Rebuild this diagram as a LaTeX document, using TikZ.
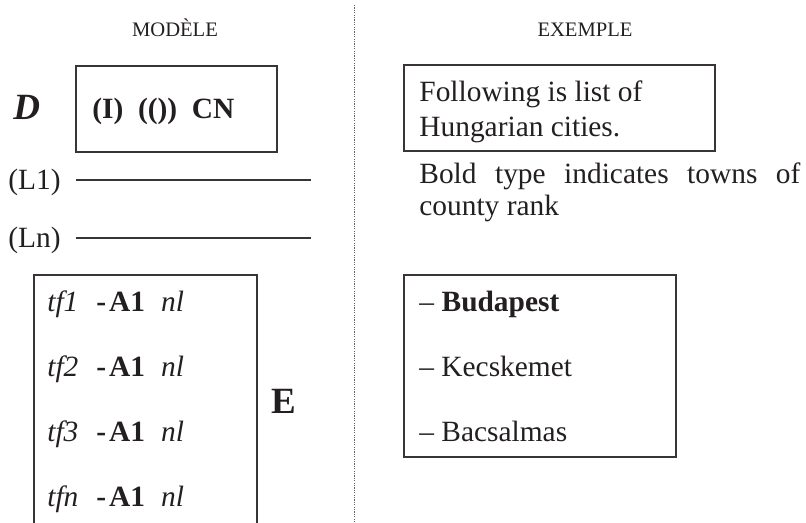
\documentclass[tikz,border=0pt]{standalone}
\usepackage{fontspec}
\setmainfont{Liberation Serif}
\definecolor{ink}{RGB}{35,31,32}
\begin{document}
\begin{tikzpicture}[x=0.5pt,y=-0.5pt,
    txt/.style={anchor=base west,inner sep=0pt,text=ink,font=\fontsize{14.7}{17.5}\selectfont},
    head/.style={anchor=base,inner sep=0pt,text=ink,font=\fontsize{10.3}{12}\selectfont},
    frame/.style={draw=ink!90,line width=0.6pt},
    sep/.style={draw=ink!70,line width=0.5pt,dash pattern=on 0.6pt off 0.6pt}]

    \useasboundingbox (0,0) rectangle (806,523);

    % Headings
    \node[head] (modele) at (175,37) {MODÈLE};
    \node[head] (exemple) at (585,37) {EXEMPLE};

    % Separator
    \draw[sep] (354,5) -- (354,523);

    % Model: D box
    \node[txt,font=\fontsize{18.5}{20}\selectfont\bfseries\itshape] (dlabel) at (13,120) {D};
    \draw[frame] (76,66) rectangle (277,152);
    \node[txt,font=\fontsize{14.7}{17.5}\selectfont\bfseries] (dtext) at (92,119) {(I)~~(())~~CN};

    % Model: L lines
    \node[txt] (l1) at (8,190) {(L1)};
    \draw[frame] (76,180) -- (311,180);
    \node[txt] (ln) at (8,248) {(Ln)};
    \draw[frame] (76,238) -- (311,238);

    % Model: E box (open at the bottom)
    \draw[frame] (34,523) -- (34,275) -- (257,275) -- (257,523);
    \node[txt] (tf1) at (47,311.7) {\textit{tf1}\hspace{9pt}\textbf{-\hspace{1.5pt}A1}\hspace{8pt}\textit{nl}};
    \node[txt] (tf2) at (47,376.7) {\textit{tf2}\hspace{9pt}\textbf{-\hspace{1.5pt}A1}\hspace{8pt}\textit{nl}};
    \node[txt] (tf3) at (47,441.7) {\textit{tf3}\hspace{9pt}\textbf{-\hspace{1.5pt}A1}\hspace{8pt}\textit{nl}};
    \node[txt] (tfn) at (47,506.7) {\textit{tfn}\hspace{9pt}\textbf{-\hspace{1.5pt}A1}\hspace{8pt}\textit{nl}};
    \node[txt,font=\fontsize{18.5}{20}\selectfont\bfseries] (elabel) at (271,413) {E};

    % Example: header box
    \draw[frame] (404,65) rectangle (715,151);
    \node[txt] (follow1) at (419,101.7) {Following is list of};
    \node[txt] (follow2) at (419,136.7) {Hungarian cities.};

    % Example: note
    \node[txt] (bold1) at (419,184) {\makebox[190.5pt][s]{Bold type indicates towns of}};
    \node[txt] (bold2) at (419,216) {county rank};

    % Example: list box
    \draw[frame] (404,275) rectangle (676,457);
    \node[txt] (city1) at (419,311.7) {– \textbf{Budapest}};
    \node[txt] (city2) at (419,376.7) {– Kecskemet};
    \node[txt] (city3) at (419,441.7) {– Bacsalmas};

\end{tikzpicture}
\end{document}
